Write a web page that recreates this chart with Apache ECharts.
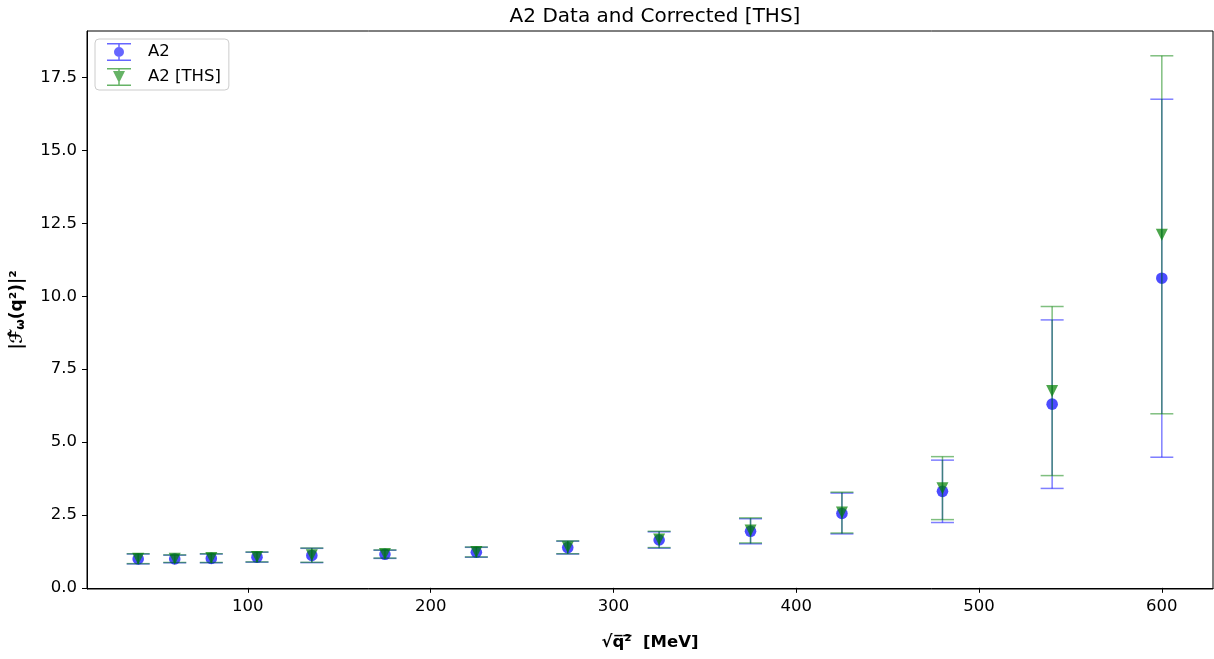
<!DOCTYPE html>
<html>
<head>
    <meta charset="UTF-8">
    <title>A2 Data and Corrected [THS]</title>
    <script src="https://cdn.jsdelivr.net/npm/echarts@6.0.0/dist/echarts.min.js"></script>
    <style>
        html, body {margin: 0; padding: 0; background: #fff;}
        #chart {width: 1214px; height: 659px;}
    </style>
</head>
<body>
    <div id="chart"></div>

    <script>
        // sqrt(q^2) in MeV
        const qValues = [40, 60, 80, 105, 135, 175, 225, 275, 325, 375, 425, 480, 540, 600];
        // A2 data
        const a2Values = [0.99, 0.99, 1.01, 1.05, 1.11, 1.15, 1.22, 1.38, 1.64, 1.94, 2.55, 3.31, 6.30, 10.62];
        const a2Errors = [0.17, 0.13, 0.15, 0.17, 0.245, 0.14, 0.17, 0.22, 0.28, 0.43, 0.70, 1.07, 2.89, 6.14];
        // A2 corrected [THS]
        const thsValues = [1.00, 1.00, 1.02, 1.06, 1.12, 1.16, 1.23, 1.39, 1.66, 1.97, 2.58, 3.42, 6.75, 12.11];
        const thsErrors = [0.17, 0.13, 0.15, 0.17, 0.245, 0.14, 0.17, 0.22, 0.28, 0.43, 0.70, 1.08, 2.90, 6.14];
        // tick labels
        const xTicks = [100, 200, 300, 400, 500, 600];
        const yTicks = [0, 2.5, 5, 7.5, 10, 12.5, 15, 17.5];

        const FONT = 'DejaVu Sans';
        const CAP = 11.5;

        const toData = (vals, errs) => qValues.map((q, i) => [q, vals[i], errs[i]]);

        // error bar + marker drawn with the axis scales
        const errorBar = (barColor, markColor, marker) => (params, api) => {
            const x = api.value(0), y = api.value(1), e = api.value(2);
            const p = api.coord([x, y]);
            const hi = api.coord([x, y + e]);
            const lo = api.coord([x, y - e]);
            const line = { stroke: barColor, lineWidth: 1.5 };
            const children = [
                { type: 'line', shape: { x1: p[0], y1: hi[1], x2: p[0], y2: lo[1] }, style: line },
                { type: 'line', shape: { x1: p[0] - CAP, y1: hi[1], x2: p[0] + CAP, y2: hi[1] }, style: line },
                { type: 'line', shape: { x1: p[0] - CAP, y1: lo[1], x2: p[0] + CAP, y2: lo[1] }, style: line }
            ];
            if (marker === 'circle') {
                children.push({ type: 'circle', shape: { cx: p[0], cy: p[1], r: 5.8 }, style: { fill: markColor } });
            } else {
                children.push({
                    type: 'polygon',
                    shape: { points: [[p[0] - 6, p[1] - 6], [p[0] + 6, p[1] - 6], [p[0], p[1] + 6]] },
                    style: { fill: markColor }
                });
            }
            return { type: 'group', children: children };
        };

        const circleIcon = 'path://M0,0H24V1.5H0Z M0,16.5H24V18H0Z M11.25,0H12.75V18H11.25Z M7,9A5,5 0 1,1 17,9A5,5 0 1,1 7,9Z';
        const triIcon = 'path://M0,0H24V1.5H0Z M0,16.5H24V18H0Z M11.25,0H12.75V18H11.25Z M6,3H18L12,15Z';

        const chart = echarts.init(document.getElementById('chart'));
        chart.setOption({
            animation: false,
            textStyle: { fontFamily: FONT },
            title: {
                text: 'A2 Data and Corrected [THS]',
                left: 650, top: 2, textAlign: 'center',
                textStyle: { fontFamily: FONT, fontSize: 20, fontWeight: 'normal', color: '#000' }
            },
            legend: {
                orient: 'vertical',
                left: 95, top: 39,
                padding: [4, 8, 4, 12],
                itemWidth: 24, itemHeight: 18, itemGap: 7,
                borderColor: '#cccccc', borderWidth: 1, borderRadius: 4,
                backgroundColor: 'rgba(255,255,255,0.8)',
                textStyle: { fontFamily: FONT, fontSize: 16.5, color: '#000', padding: [0, 0, 0, 12] },
                data: [
                    { name: 'A2', icon: circleIcon, itemStyle: { color: 'rgba(0,0,255,0.6)' } },
                    { name: 'A2 [THS]', icon: triIcon, itemStyle: { color: 'rgba(0,128,0,0.6)' } }
                ]
            },
            grid: { left: 87, right: 1, top: 31, bottom: 70, show: true, borderColor: '#000', borderWidth: 1 },
            xAxis: {
                type: 'value',
                min: 12, max: 628,
                name: '√q̅²̅  [MeV]',
                nameLocation: 'middle', nameGap: 45,
                nameTextStyle: { fontFamily: FONT, fontSize: 16.5, fontWeight: 'bold', color: '#000' },
                axisLine: { show: true, lineStyle: { color: '#000' } },
                axisTick: { show: true, length: 5, customValues: xTicks, lineStyle: { color: '#000' } },
                axisLabel: { customValues: xTicks, fontSize: 16.5, color: '#000', margin: 9 },
                splitLine: { show: false }
            },
            yAxis: {
                type: 'value',
                min: -0.04, max: 19.1,
                name: '{b||ℱ̂}{s|ω}{b|(q²)|²}',
                nameLocation: 'middle', nameGap: 60, nameRotate: 90,
                nameTextStyle: {
                    fontFamily: FONT, color: '#000',
                    rich: {
                        b: { fontFamily: FONT, fontSize: 17, fontWeight: 'bold', color: '#000' },
                        s: { fontFamily: FONT, fontSize: 12, fontWeight: 'bold', color: '#000', verticalAlign: 'bottom', padding: [6, 0, 0, 0] }
                    }
                },
                axisLine: { show: true, lineStyle: { color: '#000' } },
                axisTick: { show: true, length: 5, customValues: yTicks, lineStyle: { color: '#000' } },
                axisLabel: {
                    customValues: yTicks, fontSize: 16.5, color: '#000', margin: 10,
                    formatter: v => v.toFixed(1)
                },
                splitLine: { show: false }
            },
            series: [
                {
                    name: 'A2',
                    type: 'custom',
                    itemStyle: { color: 'rgba(0,0,255,0.6)' },
                    renderItem: errorBar('rgba(0,0,255,0.5)', 'rgba(0,0,255,0.7)', 'circle'),
                    encode: { x: 0, y: 1 },
                    data: toData(a2Values, a2Errors)
                },
                {
                    name: 'A2 [THS]',
                    type: 'custom',
                    itemStyle: { color: 'rgba(0,128,0,0.6)' },
                    renderItem: errorBar('rgba(0,128,0,0.5)', 'rgba(0,128,0,0.7)', 'triangle'),
                    encode: { x: 0, y: 1 },
                    data: toData(thsValues, thsErrors)
                }
            ]
        });
    </script>
</body>
</html>
